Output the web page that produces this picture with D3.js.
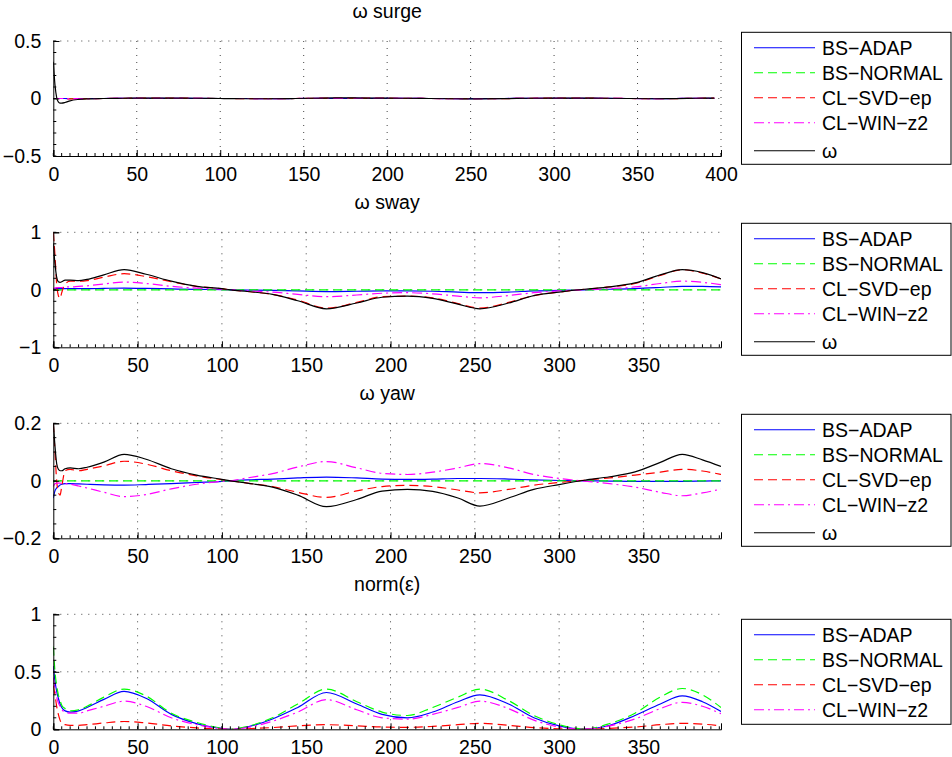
<html>
<head>
<script src="https://d3js.org/d3.v7.min.js"></script>
<style>
  body { margin: 0; background: #fff; }
  text { font-family: "Liberation Sans", Arial, sans-serif; fill: #000; }
  .grid { stroke: #444; stroke-width: 1; stroke-dasharray: 1,6; fill: none; }
</style>
</head>
<body>
<svg id="chart" width="952" height="757"></svg>
<script>
// sample times (s)
const t = [0,1,2,3,4,5,7,10,15,20,30,42,55,70,85,100,105,115,130,145,162,180,195,210,225,240,253,270,285,300,315,330,345,360,373,385,396];

const seriesNames = ["BS\u2212ADAP", "BS\u2212NORMAL", "CL\u2212SVD\u2212ep", "CL\u2212WIN\u2212z2", "\u03c9"];
const titles = ["\u03c9 surge", "\u03c9 sway", "\u03c9 yaw", "norm(\u03b5)"];

// ω surge
const surgeAdap   = [0,0,0,0,0,0,0,-0.001,-0.001,0,0,0.001,0.001,0.001,0.001,0,0,0,-0.001,0,0.001,0.001,0.001,0.001,0,-0.001,-0.001,0,0.001,0.001,0.001,0.001,0,-0.001,0,0.001,0.001];
const surgeNormal = [0,0,0,0,0,0,0,0,0,0,0,0,0,0,0,0,0,0,0,0,0,0,0,0,0,0,0,0,0,0,0,0,0,0,0,0,0];
const surgeSvd    = [0,0,0,0,0,0,-0.002,-0.004,-0.003,-0.002,0,0.002,0.003,0.003,0.002,0,0,-0.001,-0.002,0,0.003,0.004,0.003,0.002,0,-0.002,-0.002,-0.001,0.002,0.003,0.003,0.002,0,-0.002,-0.001,0.002,0.003];
const surgeWin    = [0,0,0,0,0,0,0,-0.001,-0.001,-0.001,0,0.001,0.001,0.001,0.001,0,0,0,-0.001,0,0.001,0.002,0.001,0.001,0,-0.001,-0.001,0,0.001,0.001,0.001,0.001,0,-0.001,0,0.001,0.001];
const surgeOmega  = [0.32,0.12,0.01,-0.03,-0.04,-0.04,-0.035,-0.02,-0.008,-0.003,0,0.002,0.004,0.004,0.002,0,-0.001,-0.002,-0.002,0,0.004,0.005,0.003,0.002,0,-0.002,-0.003,-0.001,0.002,0.004,0.004,0.002,0,-0.002,-0.001,0.002,0.004];

// ω sway
const swayAdap   = [0.02,0.02,0.02,0.02,0.02,0.02,0.02,0.02,0.02,0.02,0.025,0.03,0.025,0.015,0.008,0.003,0,-0.005,-0.01,-0.02,-0.03,-0.025,-0.02,-0.02,-0.025,-0.04,-0.05,-0.04,-0.02,-0.01,0,0.01,0.02,0.04,0.06,0.06,0.05];
const swayNormal = [0,0,0,0,0,0,0,0,0,0,0,0,0,0,0,0,0,0,0,0,0,0,0,0,0,0,0,0,0,0,0,0,0,0,0,0,0];
const swaySvd    = [1.0,0.6,0.1,-0.1,-0.15,-0.05,0.1,0.15,0.15,0.16,0.22,0.28,0.23,0.14,0.06,0.02,0,-0.03,-0.08,-0.18,-0.32,-0.22,-0.12,-0.11,-0.14,-0.24,-0.32,-0.22,-0.1,-0.04,0.01,0.05,0.11,0.25,0.35,0.29,0.19];
const swayWin    = [0.02,0.03,0.04,0.04,0.04,0.04,0.05,0.05,0.06,0.07,0.1,0.135,0.11,0.06,0.03,0.01,0,-0.02,-0.04,-0.08,-0.12,-0.09,-0.06,-0.05,-0.07,-0.11,-0.14,-0.1,-0.05,-0.02,0,0.02,0.05,0.11,0.15,0.13,0.09];
const swayOmega  = [0.8,0.45,0.22,0.14,0.13,0.14,0.17,0.17,0.16,0.18,0.26,0.35,0.27,0.15,0.06,0.02,0,-0.03,-0.08,-0.19,-0.33,-0.23,-0.13,-0.11,-0.15,-0.25,-0.33,-0.23,-0.1,-0.04,0.01,0.05,0.12,0.26,0.35,0.3,0.19];

// ω yaw
const yawAdap   = [-0.06,-0.035,-0.025,-0.02,-0.015,-0.012,-0.01,-0.01,-0.011,-0.012,-0.014,-0.015,-0.013,-0.01,-0.006,-0.002,0,0.003,0.006,0.01,0.013,0.01,0.006,0.005,0.006,0.008,0.008,0.006,0.003,0.001,0,-0.001,-0.002,-0.002,-0.002,-0.001,0];
const yawNormal = [-0.003,-0.002,-0.001,0,0,0,0,0,0,0,0,0,0,0,0,0,0,0,0,0,0,0,0,0,0,0,0,0,0,0,0,0,0,0,0,0,0];
const yawSvd    = [0.2,0.1,0,-0.04,-0.05,-0.02,0.035,0.04,0.035,0.04,0.052,0.068,0.058,0.035,0.017,0.004,0,-0.008,-0.02,-0.04,-0.058,-0.035,-0.02,-0.016,-0.02,-0.032,-0.042,-0.03,-0.015,-0.006,0.002,0.01,0.02,0.03,0.04,0.034,0.022];
const yawWin    = [-0.02,-0.01,-0.008,-0.008,-0.008,-0.009,-0.01,-0.012,-0.018,-0.025,-0.04,-0.055,-0.048,-0.028,-0.012,-0.002,0,0.01,0.025,0.048,0.067,0.045,0.026,0.022,0.03,0.045,0.06,0.045,0.022,0.008,-0.001,-0.01,-0.022,-0.04,-0.052,-0.042,-0.029];
const yawOmega  = [0.2,0.12,0.06,0.04,0.035,0.035,0.042,0.045,0.042,0.047,0.065,0.092,0.075,0.042,0.02,0.005,0,-0.008,-0.022,-0.05,-0.09,-0.065,-0.036,-0.03,-0.037,-0.06,-0.088,-0.06,-0.03,-0.013,0.002,0.014,0.031,0.064,0.092,0.073,0.05];

// norm(ε)
const normAdap   = [0.55,0.42,0.33,0.27,0.22,0.19,0.16,0.15,0.16,0.19,0.26,0.33,0.27,0.13,0.05,0.008,0,0.02,0.09,0.19,0.32,0.22,0.13,0.1,0.15,0.24,0.3,0.22,0.1,0.03,0.002,0.035,0.12,0.22,0.29,0.24,0.155];
const normNormal = [0.72,0.5,0.38,0.3,0.25,0.21,0.18,0.16,0.17,0.2,0.28,0.35,0.29,0.14,0.06,0.01,0,0.025,0.1,0.22,0.35,0.24,0.15,0.12,0.19,0.28,0.35,0.25,0.12,0.04,0.002,0.05,0.14,0.28,0.355,0.3,0.19];
const normSvd    = [0.38,0.3,0.2,0.13,0.08,0.05,0.04,0.035,0.035,0.04,0.055,0.068,0.055,0.03,0.012,0.002,0,0.005,0.015,0.03,0.04,0.03,0.02,0.017,0.025,0.04,0.052,0.035,0.015,0.004,0,0.008,0.02,0.04,0.052,0.045,0.03];
const normWin    = [0.45,0.35,0.28,0.23,0.2,0.17,0.15,0.14,0.14,0.16,0.2,0.245,0.2,0.1,0.04,0.006,0,0.015,0.07,0.15,0.258,0.17,0.1,0.088,0.13,0.19,0.245,0.18,0.08,0.02,0.001,0.03,0.09,0.18,0.235,0.2,0.135];

const colors = ["#0000ff", "#00ff00", "#ff0000", "#ff00ff", "#000000"];
const dashes = [null, "9,5", "9,5", "10,4,2,4", null];

const panels = [
  { title: titles[0], y: [-0.5, 0.5], yTicks: [-0.5, 0, 0.5], yMinor: 0.1, xMax: 400, xTicks: [0,50,100,150,200,250,300,350,400],
    data: [surgeAdap, surgeNormal, surgeSvd, surgeWin, surgeOmega] },
  { title: titles[1], y: [-1, 1], yTicks: [-1, 0, 1], yMinor: 0.2, xMax: 396, xTicks: [0,50,100,150,200,250,300,350],
    data: [swayAdap, swayNormal, swaySvd, swayWin, swayOmega] },
  { title: titles[2], y: [-0.2, 0.2], yTicks: [-0.2, 0, 0.2], yMinor: 0.05, xMax: 396, xTicks: [0,50,100,150,200,250,300,350],
    data: [yawAdap, yawNormal, yawSvd, yawWin, yawOmega] },
  { title: titles[3], y: [0, 1], yTicks: [0, 0.5, 1], yMinor: 0.1, xMax: 396, xTicks: [0,50,100,150,200,250,300,350],
    data: [normAdap, normNormal, normSvd, normWin] }
];

const svg = d3.select("#chart");
const x0 = 53.3, x1 = 721, plotH = 115;
const tops = [41, 232.3, 423.3, 614.3];
const legendTops = [32.3, 223.3, 414.3, 619.3];
const fmt = d => (d < 0 ? "\u2212" + Math.abs(d) : "" + d);

panels.forEach((p, i) => {
  const top = tops[i], bottom = top + plotH;
  const x = d3.scaleLinear().domain([0, p.xMax]).range([x0, x1]);
  const y = d3.scaleLinear().domain(p.y).range([bottom, top]);
  const g = svg.append("g");

  // grid
  g.selectAll("line.vg").data(p.xTicks.filter(d => d > 0)).join("line")
    .attr("class", "grid").attr("x1", d => x(d)).attr("x2", d => x(d)).attr("y1", top).attr("y2", bottom);
  g.selectAll("line.hg").data(p.yTicks.filter(d => d > p.y[0])).join("line")
    .attr("class", "grid").attr("x1", x0).attr("x2", x1).attr("y1", d => y(d)).attr("y2", d => y(d));

  // lines
  g.append("clipPath").attr("id", "clip" + i).append("rect")
    .attr("x", x0).attr("y", top).attr("width", x1 - x0).attr("height", plotH);
  const line = d3.line().x((d, k) => x(t[k])).y(d => y(d)).curve(d3.curveMonotoneX);
  p.data.forEach((vals, s) => {
    g.append("path").datum(vals)
      .attr("clip-path", "url(#clip" + i + ")")
      .attr("d", line)
      .attr("fill", "none")
      .attr("stroke", colors[s])
      .attr("stroke-width", 1.2)
      .attr("stroke-dasharray", dashes[s]);
  });

  // axes
  const xAxis = d3.axisBottom(x).tickValues(p.xTicks).tickSize(-6).tickPadding(11).tickFormat(fmt);
  const xa = g.append("g").attr("transform", `translate(0,${bottom})`).call(xAxis);
  const yAxis = d3.axisLeft(y).tickValues(p.yTicks).tickSize(-6).tickPadding(12).tickFormat(fmt);
  const ya = g.append("g").attr("transform", `translate(${x0},0)`).call(yAxis);
  [xa, ya].forEach(a => {
    a.select(".domain").attr("stroke", "#000");
    a.selectAll("text").style("font-size", "19.5px").attr("fill", "#000");
    a.selectAll("line").attr("stroke", "#000");
  });
  // minor ticks
  const xMinor = d3.range(0, p.xMax + 0.01, 5);
  g.append("g").selectAll("line").data(xMinor).join("line")
    .attr("x1", d => x(d)).attr("x2", d => x(d)).attr("y1", bottom).attr("y2", bottom - 3)
    .attr("stroke", "#000");
  const yMinor = d3.range(p.y[0], p.y[1] + 1e-9, p.yMinor);
  g.append("g").selectAll("line").data(yMinor).join("line")
    .attr("x1", x0).attr("x2", x0 + 3).attr("y1", d => y(d)).attr("y2", d => y(d))
    .attr("stroke", "#000");

  // title
  g.append("text").attr("x", (x0 + x1) / 2).attr("y", top - 23)
    .attr("text-anchor", "middle").style("font-size", "19.5px").text(p.title);

  // legend
  const n = p.data.length;
  const lt = legendTops[i];
  const lh = n === 5 ? 132 : 105;
  const lg = g.append("g");
  lg.append("rect").attr("x", 741.5).attr("y", lt).attr("width", 209.5).attr("height", lh)
    .attr("fill", "#fff").attr("stroke", "#000");
  p.data.forEach((vals, s) => {
    const ry = lt + 15.5 + 25 * s + (s === 4 ? 3 : 0);
    lg.append("line").attr("x1", 754).attr("x2", 815).attr("y1", ry).attr("y2", ry)
      .attr("stroke", colors[s]).attr("stroke-width", 1.1).attr("stroke-dasharray", dashes[s]);
    lg.append("text").attr("x", 822).attr("y", ry + 7).style("font-size", "19.5px").text(seriesNames[s]);
  });
});
</script>
</body>
</html>
